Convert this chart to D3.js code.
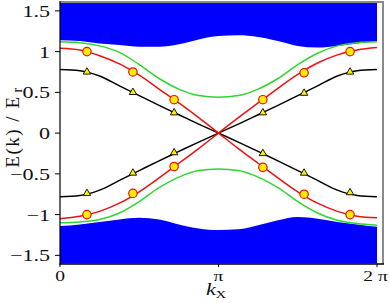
<!DOCTYPE html>
<html>
<head>
<meta charset="utf-8">
<script src="https://cdn.jsdelivr.net/npm/d3@7"></script>
<style>
  body { margin: 0; background: #fff; }
  text { font-family: "Liberation Serif", "DejaVu Serif", serif; fill: #111; }
</style>
</head>
<body>
<div id="vis"></div>
<script>
const FRAME_WIDTH = 390;
const FRAME_HEIGHT = 303;
const MARGINS = { left: 60, right: 13, top: 3, bottom: 39 };

// k sample points, in units of pi
const kPi = [0, 0.125, 0.25, 0.375, 0.5, 0.625, 0.75, 0.875, 1,
             1.125, 1.25, 1.375, 1.5, 1.625, 1.75, 1.875, 2];

// edges of the dense blue bands
const upperBandEdge = [1.14, 1.13, 1.10, 1.08, 1.06, 1.06, 1.09, 1.15, 1.19,
                       1.20, 1.18, 1.13, 1.07, 1.05, 1.07, 1.10, 1.13];
const lowerBandEdge = [-1.14, -1.12, -1.09, -1.06, -1.04, -1.06, -1.12, -1.17, -1.19,
                       -1.18, -1.13, -1.07, -1.03, -1.05, -1.09, -1.12, -1.15];

// green curves
const greenUpper = [1.12, 1.11, 1.07, 0.99, 0.84, 0.67, 0.54, 0.46, 0.44,
                    0.46, 0.54, 0.67, 0.84, 0.98, 1.07, 1.11, 1.12];
const greenLower = [-1.10, -1.09, -1.06, -0.98, -0.84, -0.67, -0.54, -0.46, -0.44,
                    -0.46, -0.54, -0.67, -0.84, -0.98, -1.07, -1.11, -1.13];

// red curves (crossing at pi)
const redFall = [1.04, 1.02, 0.95, 0.85, 0.71, 0.54, 0.37, 0.19, 0,
                 -0.19, -0.37, -0.55, -0.72, -0.86, -0.96, -1.02, -1.04];
const redRise = [-1.05, -1.02, -0.96, -0.86, -0.72, -0.55, -0.37, -0.19, 0,
                 0.19, 0.37, 0.55, 0.72, 0.86, 0.96, 1.02, 1.05];

// black curves (crossing at pi)
const blackFall = [0.78, 0.765, 0.70, 0.58, 0.46, 0.34, 0.225, 0.11, 0,
                   -0.11, -0.225, -0.34, -0.46, -0.58, -0.70, -0.765, -0.78];
const blackRise = [-0.78, -0.765, -0.70, -0.58, -0.46, -0.34, -0.225, -0.11, 0,
                   0.11, 0.225, 0.34, 0.46, 0.58, 0.70, 0.765, 0.78];

// markers
const markerK = [0.17, 0.46, 0.72, 1.28, 1.54, 1.83];
const redMarkUpper = [1.00, 0.75, 0.41, 0.41, 0.74, 1.00];
const redMarkLower = [-1.00, -0.74, -0.41, -0.42, -0.75, -1.00];
const blackMarkUpper = [0.75, 0.50, 0.25, 0.25, 0.49, 0.75];
const blackMarkLower = [-0.74, -0.49, -0.24, -0.25, -0.49, -0.73];

// tick labels
const yTicks = [1.5, 1, 0.5, 0, -0.5, -1, -1.5];
const yTickLabels = ["1.5", "1", "0.5", "0", "\u22120.5", "\u22121", "\u22121.5"];
const xTicks = [0, 1, 2];
const xTickLabels = ["0", "\u03c0", "2 \u03c0"];

const X_SCALE = d3.scaleLinear().domain([0, 2]).range([60, 377]);
const Y_SCALE = d3.scaleLinear().domain([-1.6, 1.6]).range([263.5, 2.7]);

const plotRight = FRAME_WIDTH - MARGINS.right + 6;
const plotBottom = FRAME_HEIGHT - MARGINS.bottom;

const FRAME = d3.select("#vis")
    .append("svg")
    .attr("width", FRAME_WIDTH)
    .attr("height", FRAME_HEIGHT);

// bands
const upperArea = d3.area()
    .x((d, i) => X_SCALE(kPi[i]))
    .y0(Y_SCALE(1.6))
    .y1((d) => Y_SCALE(d))
    .curve(d3.curveMonotoneX);
const lowerArea = d3.area()
    .x((d, i) => X_SCALE(kPi[i]))
    .y0(Y_SCALE(-1.6))
    .y1((d) => Y_SCALE(d))
    .curve(d3.curveMonotoneX);

FRAME.append("path").attr("d", upperArea(upperBandEdge)).attr("fill", "#0000ff");
FRAME.append("path").attr("d", lowerArea(lowerBandEdge)).attr("fill", "#0000ff");

// curves
const line = d3.line()
    .x((d, i) => X_SCALE(kPi[i]))
    .y((d) => Y_SCALE(d))
    .curve(d3.curveMonotoneX);

const curves = [
    { v: greenUpper, c: "#2fd62f" },
    { v: greenLower, c: "#2fd62f" },
    { v: blackFall, c: "#000" },
    { v: blackRise, c: "#000" },
    { v: redFall, c: "#ee1111" },
    { v: redRise, c: "#ee1111" }
];

FRAME.selectAll(".curve")
    .data(curves)
    .enter()
    .append("path")
    .attr("class", "curve")
    .attr("d", (d) => line(d.v))
    .attr("fill", "none")
    .attr("stroke", (d) => d.c)
    .attr("stroke-width", 1.5);

// triangle markers
const tri = d3.symbol().type(d3.symbolTriangle).size(24);
[blackMarkUpper, blackMarkLower].forEach((arr) => {
    FRAME.selectAll(null)
        .data(arr)
        .enter()
        .append("path")
        .attr("d", tri)
        .attr("transform", (d, i) => "translate(" + X_SCALE(markerK[i]) + "," + Y_SCALE(d) + ")")
        .attr("fill", "#ffee00")
        .attr("stroke", "#000")
        .attr("stroke-width", 0.9);
});

// circle markers
[redMarkUpper, redMarkLower].forEach((arr) => {
    FRAME.selectAll(null)
        .data(arr)
        .enter()
        .append("circle")
        .attr("cx", (d, i) => X_SCALE(markerK[i]))
        .attr("cy", (d) => Y_SCALE(d))
        .attr("r", 4.2)
        .attr("fill", "#ffee00")
        .attr("stroke", "#ee1111")
        .attr("stroke-width", 1.2);
});

// frame: grey top/right, black left/bottom
FRAME.append("line")
    .attr("x1", 60).attr("x2", plotRight)
    .attr("y1", 2).attr("y2", 2)
    .attr("stroke", "#8a8a8a").attr("stroke-width", 2);
FRAME.append("line")
    .attr("x1", plotRight).attr("x2", plotRight)
    .attr("y1", 1).attr("y2", plotBottom)
    .attr("stroke", "#8a8a8a").attr("stroke-width", 2);
FRAME.append("line")
    .attr("x1", 60).attr("x2", 60)
    .attr("y1", 1).attr("y2", plotBottom + 0.5)
    .attr("stroke", "#000").attr("stroke-width", 1.2);
FRAME.append("line")
    .attr("x1", 59.4).attr("x2", plotRight + 1)
    .attr("y1", plotBottom).attr("y2", plotBottom)
    .attr("stroke", "#000").attr("stroke-width", 1.4);

// y ticks
FRAME.selectAll(".ytick")
    .data(yTicks)
    .enter()
    .append("line")
    .attr("x1", 55).attr("x2", 60)
    .attr("y1", (d) => Y_SCALE(d)).attr("y2", (d) => Y_SCALE(d))
    .attr("stroke", "#000").attr("stroke-width", 1);

FRAME.selectAll(".ylab")
    .data(yTicks)
    .enter()
    .append("text")
    .attr("transform", (d) => "translate(50," + Y_SCALE(d) + ") scale(1.3,1)")
    .attr("dy", "0.35em")
    .attr("text-anchor", "end")
    .attr("font-size", "17px")
    .text((d, i) => yTickLabels[i]);

// x ticks
FRAME.selectAll(".xtick")
    .data(xTicks)
    .enter()
    .append("line")
    .attr("x1", (d) => X_SCALE(d)).attr("x2", (d) => X_SCALE(d))
    .attr("y1", plotBottom).attr("y2", plotBottom + 3)
    .attr("stroke", "#000").attr("stroke-width", 1);

FRAME.selectAll(".xlab")
    .data(xTicks)
    .enter()
    .append("text")
    .attr("transform", (d) => "translate(" + (X_SCALE(d) - (d === 2 ? 1.5 : 0)) + ",281) scale(1.3,1)")
    .attr("text-anchor", "middle")
    .attr("font-size", "15px")
    .text((d, i) => xTickLabels[i]);

// axis titles
const xTitle = FRAME.append("text")
    .attr("transform", "translate(206,295) scale(1.3,1)")
    .attr("font-size", "17px");
xTitle.append("tspan").attr("font-style", "italic").text("k");
xTitle.append("tspan").attr("font-size", "11px").attr("dy", 3).text("X");

const yTitle = FRAME.append("text")
    .attr("transform", "translate(19,127) rotate(-90)")
    .attr("text-anchor", "middle")
    .attr("font-size", "19px")
    .attr("letter-spacing", "1.5px");
yTitle.append("tspan").text("E(k) / E");
yTitle.append("tspan").attr("font-size", "14px").attr("dy", 3).attr("dx", 3).text("r");
</script>
</body>
</html>
